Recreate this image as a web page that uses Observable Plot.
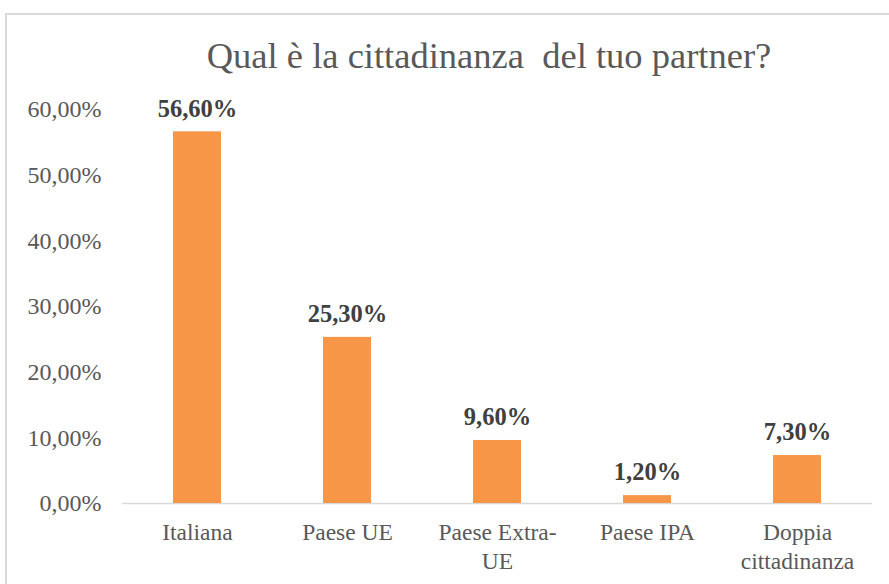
<!DOCTYPE html>
<html>
<head>
<meta charset="utf-8">
<script src="https://cdn.jsdelivr.net/npm/d3@7"></script>
<script src="https://cdn.jsdelivr.net/npm/@observablehq/plot@0.6"></script>
<style>
  html, body { margin: 0; padding: 0; background: #ffffff; width: 889px; height: 584px; overflow: hidden; }
  #frame { position: absolute; left: 5px; top: 13px; width: 1000px; height: 700px; border: 2px solid #d9d9d9; box-sizing: border-box; }
  #title { position: absolute; left: 0; width: 978px; top: 36px; text-align: center; font-family: "Liberation Serif", "DejaVu Serif", serif; font-size: 36.5px; line-height: 40px; color: #595959; white-space: pre; }
  #chart { position: absolute; left: 0; top: 85px; }
</style>
</head>
<body>
<div id="frame"></div>
<div id="title">Qual è la cittadinanza  del tuo partner?</div>
<div id="chart"></div>
<script>
const categories = ["Italiana", "Paese UE", "Paese Extra-\nUE", "Paese IPA", "Doppia\ncittadinanza"];
const values = [56.6, 25.3, 9.6, 1.2, 7.3];
const yTicks = [0, 10, 20, 30, 40, 50, 60];

const fmt = v => v.toFixed(2).replace(".", ",") + "%";
const data = categories.map((c, i) => ({cat: c, v: values[i]}));

const chart = Plot.plot({
  width: 889,
  height: 499,
  marginLeft: 122,
  marginRight: 17,
  marginTop: 24,
  marginBottom: 81,
  style: {fontFamily: '"Liberation Serif", "DejaVu Serif", serif', background: "transparent", overflow: "visible"},
  x: {domain: categories, paddingInner: 0.68, paddingOuter: 0.34, axis: null},
  y: {domain: [0, 60]},
  marks: [
    Plot.axisY(yTicks, {tickSize: 0, tickPadding: 21, tickFormat: fmt, fontSize: 24, fill: "#595959", label: null}),
    Plot.ruleY([0], {stroke: "#d9d9d9", strokeWidth: 1.5}),
    Plot.barY(data, {x: "cat", y: "v", fill: "#F79646"}),
    Plot.text(data, {x: "cat", y: "v", text: d => fmt(d.v), dy: -23, fontSize: 24.5, fontWeight: "bold", fill: "#404040"}),
    Plot.text(data, {x: "cat", y: () => 0, text: "cat", lineAnchor: "top", dy: 16, fontSize: 23.5, lineHeight: 1.24, fill: "#595959"})
  ]
});
document.getElementById("chart").appendChild(chart);
</script>
</body>
</html>
